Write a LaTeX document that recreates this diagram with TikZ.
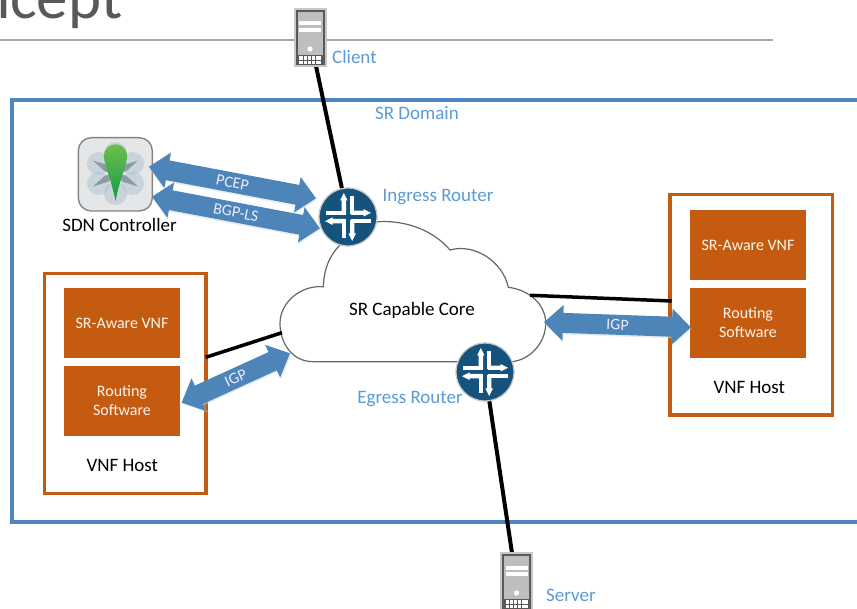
\documentclass[tikz,border=0pt]{standalone}
\usepackage{fontspec}
\setmainfont{Carlito}
\usetikzlibrary{calc}
\definecolor{domblue}{HTML}{4F86BA}
\definecolor{arrowblue}{HTML}{4E85B9}
\definecolor{lblblue}{HTML}{5B9BD5}
\definecolor{vnforange}{HTML}{C55A11}
\definecolor{routerblue}{HTML}{15527C}
\definecolor{srvbody}{HTML}{BDBEC0}
\definecolor{srvdark}{HTML}{58595B}
\definecolor{iconbg}{HTML}{E4E6E8}
\definecolor{petal}{HTML}{A9BECB}
\definecolor{spike}{HTML}{5F7686}
\definecolor{leaftop}{HTML}{6DBE4B}
\definecolor{leafbot}{HTML}{129B4A}
\tikzset{
  lbl/.style={font=\fontsize{19}{22}\selectfont,text=lblblue,inner sep=0pt},
  blk/.style={font=\fontsize{19}{22}\selectfont,text=black,inner sep=0pt},
  vnfbox/.style={fill=vnforange,draw=none,minimum width=116pt,minimum height=70pt,inner sep=0pt,text=white!92!orange,align=center,font=\fontsize{16}{19}\selectfont},
  hostbox/.style={draw=vnforange,line width=3.5pt,fill=white},
  link/.style={draw=black,line width=3.5pt},
  arrowtxt/.style={inner sep=0pt,text=white!92!blue,font=\fontsize{16}{18}\selectfont}
}
% \dblarrow{name}{centre}{angle}{half length}{text}
\newcommand{\dblarrow}[5]{%
  \begin{scope}[shift={(#2)},rotate=#3]
    \fill[arrowblue!30,opacity=.5,shift={(0.6,1.6)}] (-#4,0) -- (-#4+19,-18) -- (-#4+19,-10) -- (#4-19,-10) -- (#4-19,-18) -- (#4,0) -- (#4-19,18) -- (#4-19,10) -- (-#4+19,10) -- (-#4+19,18) -- cycle;
    \fill[arrowblue] (-#4,0) -- (-#4+19,-18) -- (-#4+19,-10) -- (#4-19,-10) -- (#4-19,-18) -- (#4,0) -- (#4-19,18) -- (#4-19,10) -- (-#4+19,10) -- (-#4+19,18) -- cycle;
  \end{scope}
  \node[arrowtxt,rotate=#3] (#1) at (#2) {#5};}
\newcommand{\routerglyph}[1]{%
  \begin{scope}[shift={(#1)}]
    \fill[routerblue,draw=black!22,line width=1.3pt] (0,0) circle (29);
    \fill[white] (-4.2,-24) -- (-8,-16.5) -- (-6.4,-16.5) -- (-6.4,-3) -- (-2,-3) -- (-2,-16.5) -- (-0.4,-16.5) -- cycle;
    \fill[white] (-6.4,2.5) rectangle (-2,21);
    \fill[white] (4.2,24) -- (8,16.5) -- (6.4,16.5) -- (6.4,3) -- (2,3) -- (2,16.5) -- (0.4,16.5) -- cycle;
    \fill[white] (2,-21) rectangle (6.4,-2.5);
    \fill[white] (23,-4.2) -- (15.5,-8) -- (15.5,-6.4) -- (3,-6.4) -- (3,-2) -- (15.5,-2) -- (15.5,-0.4) -- cycle;
    \fill[white] (-22.5,-6.4) rectangle (-2.5,-2);
    \fill[white] (-23,4.2) -- (-15.5,8) -- (-15.5,6.4) -- (-3,6.4) -- (-3,2) -- (-15.5,2) -- (-15.5,0.4) -- cycle;
    \fill[white] (2.5,2) rectangle (22.5,6.4);
  \end{scope}}
\newcommand{\servericon}[1]{%
  \begin{scope}[shift={(#1)}]
    \fill[black!22] (-16.5,0) rectangle (16.5,59);
    \fill[srvdark] (-14.5,2) rectangle (14.5,57);
    \fill[srvbody] (-12.5,4) rectangle (12.5,47);
    \fill[white] (-11,13.5) rectangle (11,17.5);
    \fill[white] (-11,20) rectangle (11,24);
    \fill[white] (0,41) circle (2.6);
    \fill[white] (-11,48) rectangle (11,56);
    \foreach \xx in {-7,-3,1,5}{\draw[srvdark,line width=.8pt] (\xx,48) -- (\xx,56);}
    \draw[srvdark,line width=.8pt] (-11,52) -- (11,52);
  \end{scope}}
\begin{document}
\begin{tikzpicture}[x=1pt,y=-1pt]
\useasboundingbox (0,0) rectangle (857,609);
\begin{scope}
\clip (0,0) rectangle (857,609);
\fill[white] (0,0) rectangle (857,609);
% title
\node[anchor=base west,inner sep=0pt,text=black!65,font=\fontsize{63}{70}\selectfont] (title) at (-23,18.5) {ncept};
\coordinate (ruleL) at (0,40); \coordinate (ruleR) at (773,40);
\draw[black!35,line width=1.2pt] (ruleL) -- (ruleR);
% domain
\draw[domblue,line width=3.5pt] (870,100) -- (12,100) -- (12,522) -- (870,522);
\node[lbl] (domain) at (417,113.5) {SR Domain};
% cloud
\draw[fill=white,draw=black!60,line width=1.2pt] (313.3,361.7)
  .. controls (292,361.7) and (280,343) .. (280,323.3)
  .. controls (280,303) and (300,285) .. (323.3,286.7)
  .. controls (324,268) and (330,255) .. (340,245)
  .. controls (350,232) and (364,222) .. (378.3,221.7)
  .. controls (408,220) and (435,232) .. (450,250)
  .. controls (475,243) and (503,262) .. (508.3,287.3)
  .. controls (530,290) and (545.7,305) .. (545.7,323.3)
  .. controls (545.7,343) and (530,360) .. (511.7,361.7)
  -- cycle;
\node[blk] (core) at (412,310.5) {SR Capable Core};
% hosts
\draw[hostbox] (44.5,273.5) rectangle (206,493.5);
\draw[hostbox] (670,194.5) rectangle (832.5,415);
\node[vnfbox] (vnfL) at (122,323) {SR-Aware VNF};
\node[vnfbox] (rtL) at (122,401) {Routing\\Software};
\node[blk] (hostL) at (122.3,465) {VNF Host};
\node[vnfbox] (vnfR) at (748,245) {SR-Aware VNF};
\node[vnfbox] (rtR) at (748,323) {Routing\\Software};
\node[blk] (hostR) at (749.3,387) {VNF Host};
% links
\coordinate (cloudL) at (282,332.7); \coordinate (hostLe) at (205.7,357.3);
\coordinate (cloudR) at (530,295.3); \coordinate (hostRe) at (671.7,301);
\draw[link] (hostLe) -- (cloudL);
\draw[link] (cloudR) -- (hostRe);
\coordinate (clientB) at (316,66); \coordinate (ingress) at (348,217);
\coordinate (egress) at (485,372); \coordinate (serverT) at (512,553);
\draw[link,line width=4pt] (clientB) -- ($(clientB)!0.85!(ingress)$);
\draw[link,line width=4pt] ($(egress)!0.15!(serverT)$) -- (serverT);
% servers
\servericon{310,8}
\servericon{516.5,552}
\node[lbl,anchor=west] (client) at (332,57) {Client};
\node[lbl,anchor=west] (server) at (546,595) {Server};
% controller icon
\draw[fill=iconbg,draw=black!48,line width=1.4pt,rounded corners=13pt] (78.3,137.7) rectangle (152.3,211);
\begin{scope}[shift={(115.5,173.5)}]
  \foreach \cx/\cy in {-17/-10, 17/-10, -17/10, 17/10, 0/20, 0/-20}{
    \fill[petal,opacity=.45] (\cx,\cy) circle (11.5);
  }
  \foreach \a in {30,90,150,210,270,330}{
    \fill[spike,opacity=.6,rotate=\a] (0,0) -- (10,3.5) -- (26,0) -- (10,-3.5) -- cycle;
  }
  \shade[top color=leaftop,bottom color=leafbot] (0,27.5)
    .. controls (-3,10) and (-11.7,-10) .. (-11.7,-17.5)
    arc[start angle=180,end angle=360,radius=11.7]
    .. controls (11.7,-10) and (3,10) .. (0,27.5) -- cycle;
\end{scope}
\node[blk] (sdn) at (119.5,225) {SDN Controller};
% arrows
\dblarrow{pcep}{232.5,182.5}{-10.7}{85}{PCEP}
\dblarrow{bgp}{236,212.5}{-10.7}{85.4}{BGP-LS}
\dblarrow{igpL}{235.8,378}{24.5}{59.5}{IGP}
\dblarrow{igpR}{617.5,324.8}{-2}{73.5}{IGP}
% routers
\routerglyph{ingress}
\routerglyph{egress}
\node[lbl] (ingl) at (438,197) {Ingress Router};
\node[lbl] (egl) at (410,399) {Egress Router};
\end{scope}
\end{tikzpicture}
\end{document}
